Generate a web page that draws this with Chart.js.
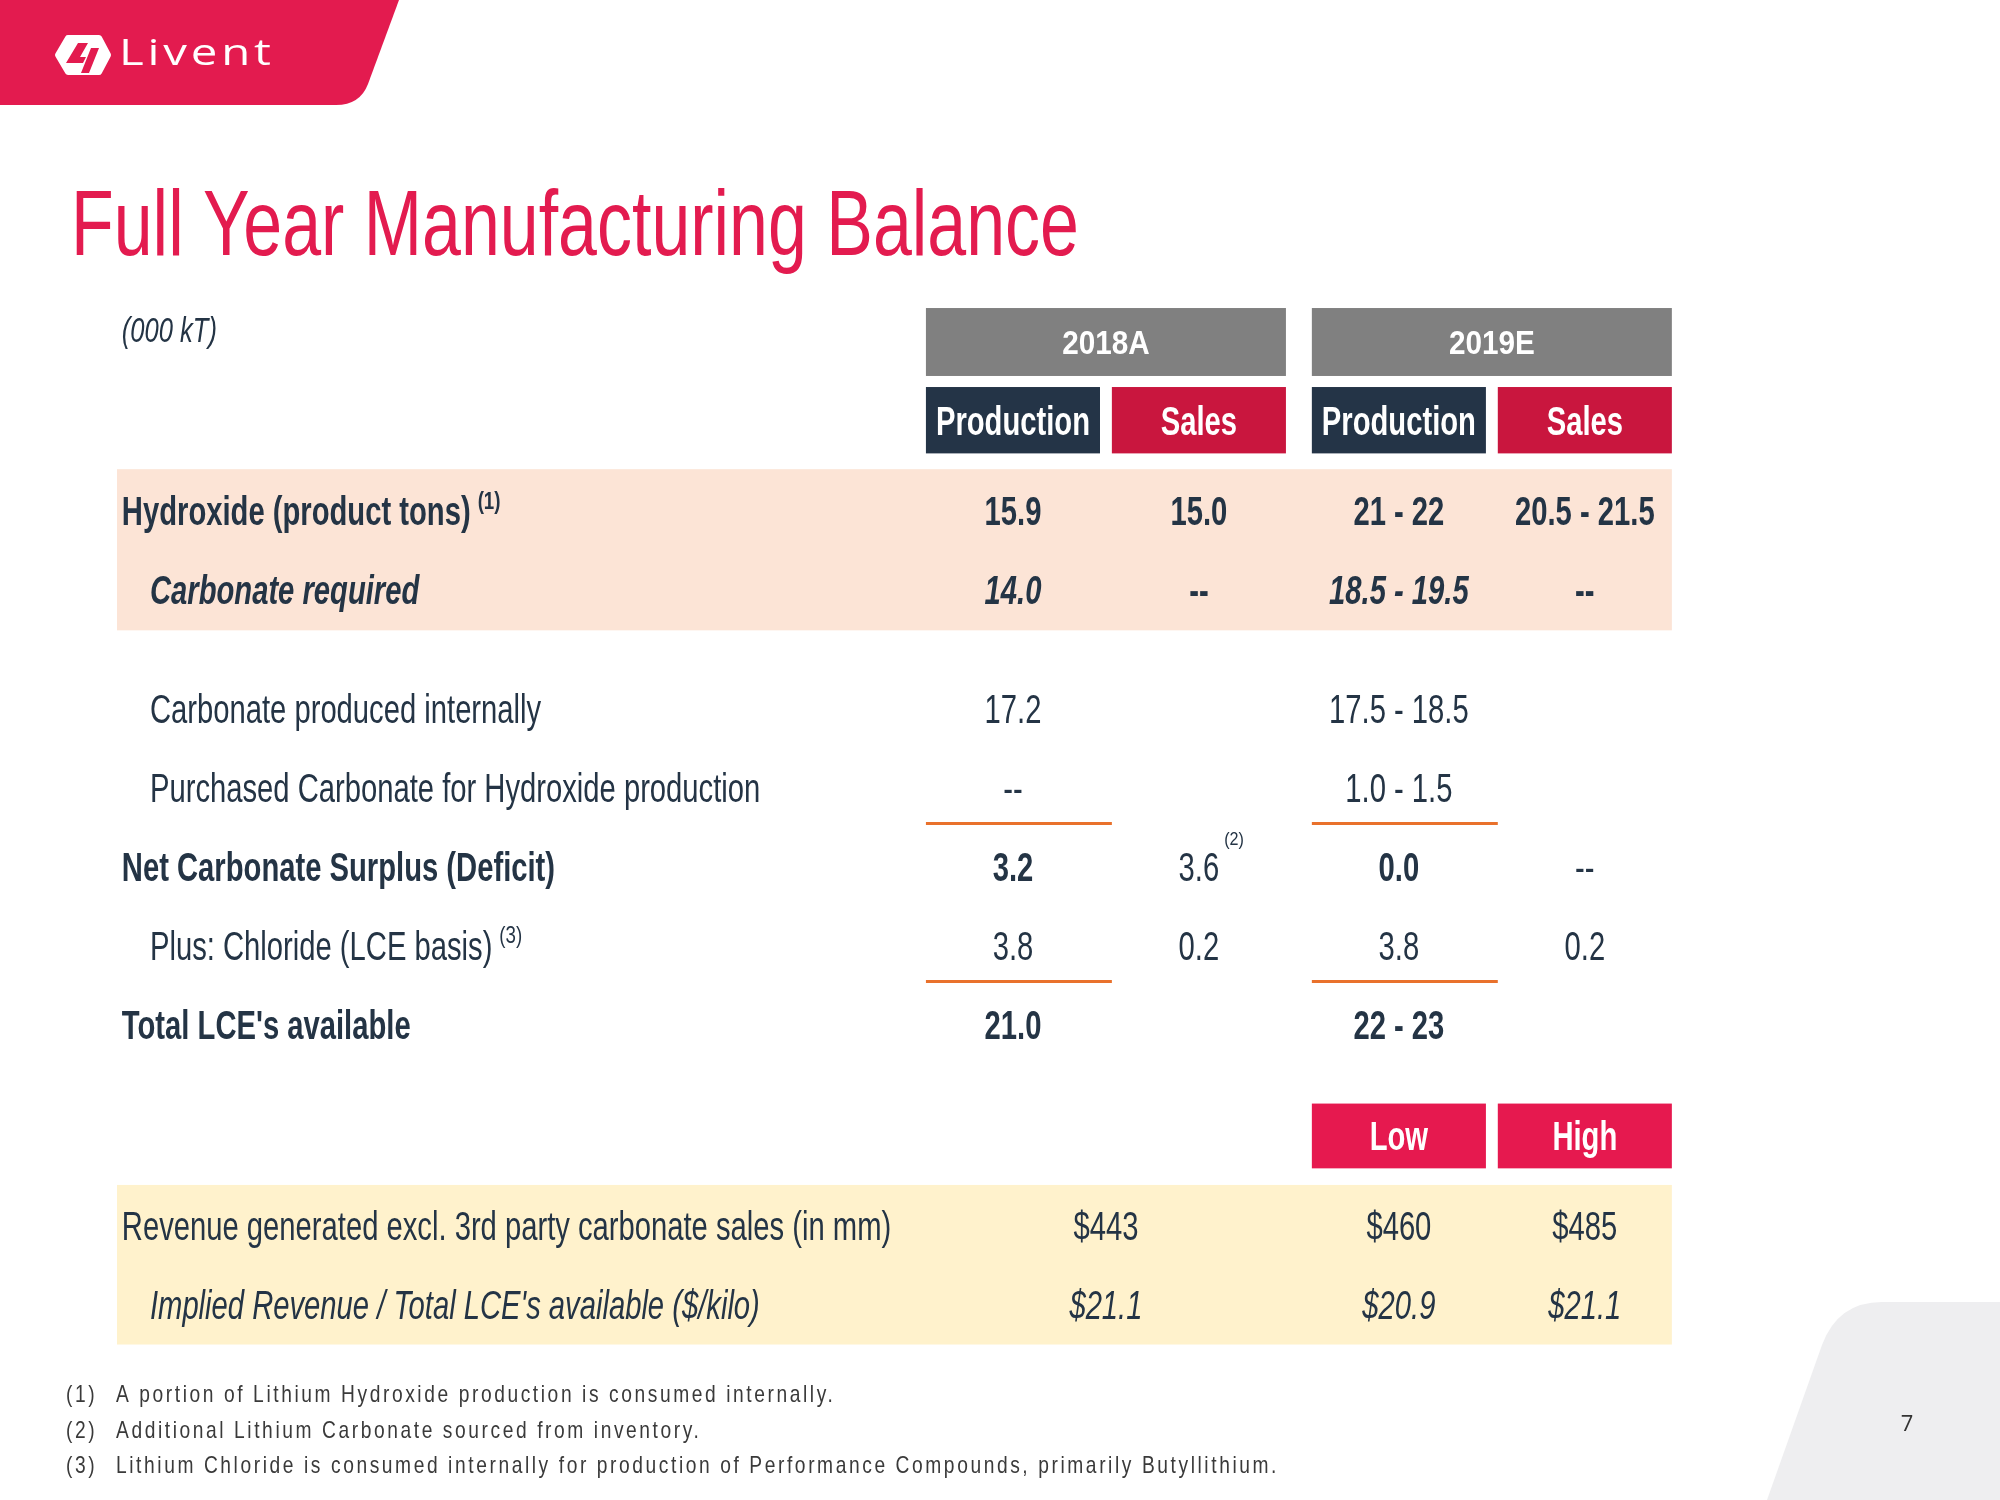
<!DOCTYPE html>
<html>
<head>
<meta charset="utf-8">
<script src="https://cdn.jsdelivr.net/npm/chart.js@4.4.1/dist/chart.umd.min.js"></script>
<style>
html,body{margin:0;padding:0;background:#ffffff;}
canvas{display:block;}
</style>
</head>
<body>
<canvas id="c" width="2000" height="1500"></canvas>
<script>
// ---------------- DATA ----------------
const brandName = 'Livent';
const title = 'Full Year Manufacturing Balance';
const unitsNote = '(000 kT)';
const years = ['2018A', '2019E'];
const subHeaders = ['Production', 'Sales'];
const rowLabels = [
  'Hydroxide (product tons)',
  'Carbonate required',
  'Carbonate produced internally',
  'Purchased Carbonate for Hydroxide production',
  'Net Carbonate Surplus (Deficit)',
  'Plus: Chloride (LCE basis)',
  "Total LCE's available"
];
const labelNotes = ['(1)', '', '', '', '', '(3)', ''];
const production2018 = ['15.9', '14.0', '17.2', '--', '3.2', '3.8', '21.0'];
const sales2018 = ['15.0', '--', '', '', '3.6', '0.2', ''];
const sales2018Notes = ['', '', '', '', '(2)', '', ''];
const production2019 = ['21 - 22', '18.5 - 19.5', '17.5 - 18.5', '1.0 - 1.5', '0.0', '3.8', '22 - 23'];
const sales2019 = ['20.5 - 21.5', '--', '', '', '--', '0.2', ''];
const rangeHeaders = ['Low', 'High'];
const revenueLabels = [
  'Revenue generated excl. 3rd party carbonate sales (in mm)',
  "Implied Revenue / Total LCE's available ($/kilo)"
];
const revenue2018 = ['$443', '$21.1'];
const revenue2019Low = ['$460', '$20.9'];
const revenue2019High = ['$485', '$21.1'];
const footnoteMarks = ['(1)', '(2)', '(3)'];
const footnotes = [
  'A portion of Lithium Hydroxide production is consumed internally.',
  'Additional Lithium Carbonate sourced from inventory.',
  'Lithium Chloride is consumed internally for production of Performance Compounds, primarily Butyllithium.'
];
const pageNumber = '7';

// ---------------- STYLE / LAYOUT ----------------
const FONT = '"Liberation Sans", Arial, Helvetica, sans-serif';
const BRAND_FONT = '"Open Sans", "Noto Sans", sans-serif';
const NARROW = 0.73;
const C = {
  text: '#243445', pink: '#E31B4F', gray: '#808080', navy: '#243447',
  salesRed: '#C9163E', rangeRed: '#E6194F', peach: '#FCE4D6', cream: '#FFF2CC',
  rule: '#E9712C', corner: '#EEEEF0', foot: '#3a3a3a'
};
const rowStyles = [
  {label: 'bold', indent: false, prod: 'bold', sales: 'bold'},
  {label: 'italic bold', indent: true, prod: 'italic bold', sales: 'bold'},
  {label: '', indent: true, prod: '', sales: ''},
  {label: '', indent: true, prod: '', sales: ''},
  {label: 'bold', indent: false, prod: 'bold', sales: ''},
  {label: '', indent: true, prod: '', sales: ''},
  {label: 'bold', indent: false, prod: 'bold', sales: ''}
];
const revenueStyles = [
  {label: '', indent: false, value: ''},
  {label: 'italic', indent: true, value: 'italic'}
];

// scale geometry (column / row units)
const X_RANGE = [-5.644, 5.467];
const Y_RANGE = [-4.329, 14.658];
const GROUP_SHIFT = 2.144, BOX_W = 0.967, BOX_GAP = 0.066;
const colLeft = c => -0.5 + Math.floor(c / 2) * GROUP_SHIFT + (c % 2) * (BOX_W + BOX_GAP);
const colCenter = c => colLeft(c) + BOX_W / 2;
const groupLeft = g => -0.5 + g * GROUP_SHIFT;
const groupCenter = g => groupLeft(g) + 1;
const LABEL_X = -4.967, INDENT = 0.156, BAND_LEFT = -4.994, BAND_RIGHT = groupLeft(1) + 2;
const YEAR_Y = 0, SUB_Y = 0.99;
const bodyGapAfter = [0, 0.5, 0, 0, 0, 0, 0];
const bodyY = [];
(function () { let v = 2.14; rowLabels.forEach((_, i) => { bodyY.push(v); v += 1 + bodyGapAfter[i]; }); })();
const RANGE_Y = bodyY[bodyY.length - 1] + 1.41;
const revY = [RANGE_Y + 1.14, RANGE_Y + 2.14];

// ---------------- DATASETS ----------------
function textSet(name, xs, ys, texts, styles, opts) {
  return Object.assign({
    label: name, type: 'scatter',
    data: texts.map((_, i) => ({x: xs[i], y: ys[i]})),
    texts: texts, styles: styles, pointRadius: 0, pointHoverRadius: 0,
    align: 'center', size: 40, color: C.text, sx: NARROW
  }, opts || {});
}
const datasets = [];
datasets.push(textSet('years', years.map((_, g) => groupCenter(g)), years.map(() => YEAR_Y), years,
  years.map(() => 'bold'), {color: '#ffffff', size: 33, sx: 0.9}));
const subTexts = [subHeaders[0], subHeaders[1], subHeaders[0], subHeaders[1]];
datasets.push(textSet('subheaders', subTexts.map((_, c) => colCenter(c)), subTexts.map(() => SUB_Y), subTexts,
  subTexts.map(() => 'bold'), {color: '#ffffff'}));
datasets.push(textSet('rowLabels', rowLabels.map((_, i) => LABEL_X + (rowStyles[i].indent ? INDENT : 0)), bodyY, rowLabels,
  rowStyles.map(s => s.label), {align: 'left', notes: labelNotes}));
[production2018, sales2018, production2019, sales2019].forEach((col, c) => {
  datasets.push(textSet('col' + c, col.map(() => colCenter(c)), bodyY, col,
    rowStyles.map(s => c % 2 === 0 ? s.prod : s.sales), c === 1 ? {valueNotes: sales2018Notes} : {}));
});
datasets.push(textSet('rangeHeaders', rangeHeaders.map((_, k) => colCenter(2 + k)), rangeHeaders.map(() => RANGE_Y), rangeHeaders,
  rangeHeaders.map(() => 'bold'), {color: '#ffffff'}));
datasets.push(textSet('revenueLabels', revenueLabels.map((_, i) => LABEL_X + (revenueStyles[i].indent ? INDENT : 0)), revY, revenueLabels,
  revenueStyles.map(s => s.label), {align: 'left'}));
datasets.push(textSet('revenue2018', revenue2018.map(() => groupCenter(0)), revY, revenue2018, revenueStyles.map(s => s.value)));
datasets.push(textSet('revenue2019Low', revenue2019Low.map(() => colCenter(2)), revY, revenue2019Low, revenueStyles.map(s => s.value)));
datasets.push(textSet('revenue2019High', revenue2019High.map(() => colCenter(3)), revY, revenue2019High, revenueStyles.map(s => s.value)));

// ---------------- DRAW HELPERS ----------------
function drawText(ctx, text, x, y, o) {
  const size = o.size || 40, sx = o.sx === undefined ? NARROW : o.sx;
  ctx.save();
  ctx.font = `${o.style || ''} ${size}px ${o.family || FONT}`.trim();
  ctx.fillStyle = o.color || C.text;
  ctx.textBaseline = 'alphabetic';
  ctx.textAlign = 'left';
  if (o.spacing) ctx.letterSpacing = o.spacing + 'px';
  const w = ctx.measureText(text).width * sx;
  const x0 = o.align === 'center' ? x - w / 2 : (o.align === 'right' ? x - w : x);
  ctx.translate(x0, y + size * 0.358);
  ctx.scale(sx, 1);
  ctx.fillText(text, 0, 0);
  ctx.restore();
  return {x0: x0, w: w};
}

const backgroundPlugin = {
  id: 'tableBackground',
  beforeDatasetsDraw(chart) {
    const {ctx} = chart, sx = chart.scales.x, sy = chart.scales.y;
    const rect = (x0, x1, y0, y1, color) => {
      const px0 = sx.getPixelForValue(x0), px1 = sx.getPixelForValue(x1);
      const py0 = sy.getPixelForValue(y0), py1 = sy.getPixelForValue(y1);
      ctx.fillStyle = color;
      ctx.fillRect(px0, Math.min(py0, py1), px1 - px0, Math.abs(py1 - py0));
    };
    ctx.save();
    rect(BAND_LEFT, BAND_RIGHT, bodyY[0] - 0.53, bodyY[1] + 0.51, C.peach);
    rect(BAND_LEFT, BAND_RIGHT, revY[0] - 0.52, revY[1] + 0.50, C.cream);
    years.forEach((_, g) => rect(groupLeft(g), groupLeft(g) + 2, YEAR_Y - 0.43, YEAR_Y + 0.43, C.gray));
    for (let c = 0; c < 4; c++) rect(colLeft(c), colLeft(c) + BOX_W, SUB_Y - 0.42, SUB_Y + 0.42, c % 2 ? C.salesRed : C.navy);
    rangeHeaders.forEach((_, k) => rect(colLeft(2 + k), colLeft(2 + k) + BOX_W, RANGE_Y - 0.41, RANGE_Y + 0.41, C.rangeRed));
    ctx.strokeStyle = C.rule; ctx.lineWidth = 3;
    [bodyY[4] - 0.55, bodyY[6] - 0.55].forEach(v => {
      years.forEach((_, g) => {
        const py = Math.round(sy.getPixelForValue(v)) + 0.5;
        ctx.beginPath();
        ctx.moveTo(sx.getPixelForValue(groupLeft(g)), py);
        ctx.lineTo(sx.getPixelForValue(colLeft(2 * g + 1)), py);
        ctx.stroke();
      });
    });
    ctx.restore();
  }
};

const textPlugin = {
  id: 'tableText',
  afterDatasetsDraw(chart) {
    const {ctx} = chart;
    chart.data.datasets.forEach((ds, di) => {
      if (!ds.texts) return;
      const meta = chart.getDatasetMeta(di);
      meta.data.forEach((pt, i) => {
        const t = ds.texts[i];
        if (!t) return;
        const r = drawText(ctx, t, pt.x, pt.y, {style: ds.styles[i], size: ds.size, color: ds.color, sx: ds.sx, align: ds.align});
        if (ds.notes && ds.notes[i]) {
          drawText(ctx, ds.notes[i], r.x0 + r.w + 7, pt.y - 11, {style: ds.styles[i].indexOf('bold') >= 0 ? 'bold' : '', size: 24, color: ds.color, sx: 0.78});
        }
        if (ds.valueNotes && ds.valueNotes[i]) {
          drawText(ctx, ds.valueNotes[i], r.x0 + r.w + 5, pt.y - 28, {size: 19, color: ds.color, sx: 0.85});
        }
      });
    });
    const sxs = chart.scales.x, sys = chart.scales.y;
    drawText(ctx, unitsNote, sxs.getPixelForValue(LABEL_X), sys.getPixelForValue(YEAR_Y - 0.16), {style: 'italic', size: 35, color: C.text});
  }
};

const slidePlugin = {
  id: 'slideDecor',
  beforeDraw(chart) {
    const {ctx} = chart;
    ctx.save();
    ctx.fillStyle = '#ffffff';
    ctx.fillRect(0, 0, chart.width, chart.height);
    ctx.fillStyle = C.pink;
    ctx.beginPath();
    ctx.moveTo(0, 0); ctx.lineTo(399, 0); ctx.lineTo(368, 84);
    ctx.quadraticCurveTo(360, 105, 336, 105); ctx.lineTo(0, 105); ctx.closePath(); ctx.fill();
    ctx.fillStyle = C.corner;
    ctx.beginPath();
    ctx.moveTo(1767, 1500); ctx.lineTo(1822, 1345);
    ctx.quadraticCurveTo(1838, 1302, 1882, 1302);
    ctx.lineTo(2000, 1302); ctx.lineTo(2000, 1500); ctx.closePath(); ctx.fill();
    ctx.restore();
  },
  afterDraw(chart) {
    const {ctx} = chart;
    ctx.save();
    // logo icon
    ctx.fillStyle = '#ffffff'; ctx.strokeStyle = '#ffffff'; ctx.lineWidth = 6; ctx.lineJoin = 'round';
    ctx.beginPath();
    ctx.moveTo(58, 55); ctx.lineTo(68, 38); ctx.lineTo(99, 38); ctx.lineTo(108, 55); ctx.lineTo(99, 72); ctx.lineTo(68, 72); ctx.closePath();
    ctx.fill(); ctx.stroke();
    ctx.fillStyle = C.pink;
    ctx.beginPath();
    ctx.moveTo(78, 43); ctx.lineTo(88, 43); ctx.lineTo(80, 57); ctx.lineTo(86, 57); ctx.lineTo(83, 63); ctx.lineTo(66, 63); ctx.closePath(); ctx.fill();
    ctx.beginPath();
    ctx.moveTo(91, 48); ctx.lineTo(99, 48); ctx.lineTo(89, 73); ctx.lineTo(81, 73); ctx.closePath(); ctx.fill();
    // brand name (wide, lightly tracked)
    const BS = 37, BSX = 1.28;
    ctx.font = '500 ' + BS + 'px ' + BRAND_FONT;
    const bw = ctx.measureText(brandName).width;
    const spacing = (152 / BSX - bw) / (brandName.length - 1);
    drawText(ctx, brandName, 119, 52, {style: '500', size: BS, family: BRAND_FONT, color: '#ffffff', sx: BSX, spacing: spacing});
    // title
    drawText(ctx, title, 71, 222, {size: 92, color: C.pink, sx: 0.76});
    // footnotes
    const fy = [1393, 1429, 1464];
    const FS = 24, FSX = 0.8;
    ctx.font = `${FS}px ${FONT}`;
    const base = ctx.measureText(footnotes[2]).width * FSX;
    const fsp = (1163 - base) / (footnotes[2].length * FSX);
    footnotes.forEach((t, i) => {
      drawText(ctx, footnoteMarks[i], 66, fy[i], {size: FS, color: C.foot, sx: FSX, spacing: fsp});
      drawText(ctx, t, 116, fy[i], {size: FS, color: C.foot, sx: FSX, spacing: fsp});
    });
    drawText(ctx, pageNumber, 1907, 1423, {size: 22, family: BRAND_FONT, color: '#333333', sx: 1, align: 'center'});
    ctx.restore();
  }
};

new Chart(document.getElementById('c'), {
  type: 'scatter',
  data: {datasets: datasets},
  options: {
    responsive: false, animation: false, devicePixelRatio: 1,
    layout: {padding: 0},
    events: [],
    plugins: {legend: {display: false}, tooltip: {enabled: false}, title: {display: false}},
    scales: {
      x: {type: 'linear', display: false, min: X_RANGE[0], max: X_RANGE[1]},
      y: {type: 'linear', display: false, reverse: true, min: Y_RANGE[0], max: Y_RANGE[1]}
    }
  },
  plugins: [slidePlugin, backgroundPlugin, textPlugin]
});
</script>
</body>
</html>
